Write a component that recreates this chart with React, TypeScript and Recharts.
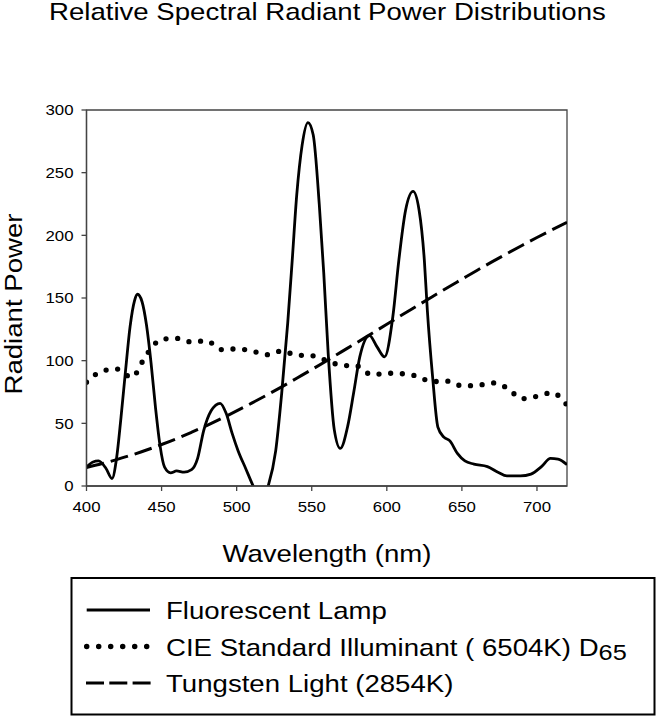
import React from 'react';
import { LineChart, Line, XAxis, YAxis, ReferenceArea, Legend } from 'recharts';

const fluorWavelengths = [
  400, 404, 408, 413, 417, 420, 423, 426, 429, 432, 434, 437, 440, 443, 446, 449, 452, 456, 460, 465,
  470, 474, 478, 483, 489, 493, 497, 501, 506, 511, 516, 521, 526, 530, 534, 537, 540, 543.6, 547.5, 551,
  555, 558, 561, 565, 569, 574, 578, 582, 588.5, 593.5, 598.5, 604, 608, 612.5, 617.5, 621.5, 625, 627,
  630.5, 634, 638, 642, 647, 652, 658, 667, 674, 680, 689, 696, 703, 709, 714, 720,
];
const fluorValues = [
  15, 19, 20, 14, 6, 22, 55, 92, 127, 148, 153, 147, 128, 98, 62, 32, 15, 10.5, 12, 11,
  13, 22, 44, 60, 66, 58, 42, 28, 14, 0, -12, 0, 28, 74, 130, 180, 232, 272, 290, 280,
  225, 170, 105, 45, 30, 48, 75, 103, 120, 111, 103, 135, 180, 220, 235, 220, 180, 140,
  87, 47, 39, 36, 26, 20, 17.5, 15.5, 11, 8, 8, 9.5, 15.5, 22, 21.5, 17,
];

const tenNmWavelengths = [
  400, 410, 420, 430, 440, 450, 460, 470, 480, 490, 500, 510, 520, 530, 540, 550, 560,
  570, 580, 590, 600, 610, 620, 630, 640, 650, 660, 670, 680, 690, 700, 710, 720,
];
const d65Values = [
  82.8, 91.5, 93.4, 86.7, 104.9, 117.0, 117.8, 114.9, 115.9, 108.8, 109.4, 107.8, 104.8, 107.7, 104.4, 104.0, 100.0,
  96.3, 95.8, 88.7, 90.0, 89.6, 87.7, 83.3, 83.7, 80.0, 80.2, 82.3, 78.3, 69.7, 71.6, 74.4, 64.5,
];
const tungstenValues = [
  14.7, 17.7, 21.0, 24.7, 28.7, 33.1, 37.8, 42.9, 48.2, 53.9, 59.9, 66.1, 72.5, 79.1, 86.0, 92.9, 100.0,
  107.2, 114.4, 121.7, 129.0, 136.4, 143.6, 150.8, 158.0, 165.0, 172.0, 178.8, 185.4, 191.9, 198.3, 204.4, 210.4,
];

const wavelengthTicks = [400, 450, 500, 550, 600, 650, 700];
const powerTicks = [0, 50, 100, 150, 200, 250, 300];
const seriesNames = ['Fluorescent Lamp', 'CIE Standard Illuminant ( 6504K) D', 'Tungsten Light (2854K)'];

const fluorData = fluorWavelengths.map((nm, i) => ({ nm, v: fluorValues[i] }));
const d65Data = tenNmWavelengths.map((nm, i) => ({ nm, v: d65Values[i] }));
const tungstenData = tenNmWavelengths.map((nm, i) => ({ nm, v: tungstenValues[i] }));

const FONT = '"Liberation Sans", Arial, sans-serif';
const STRETCH = 1.15;

const XTick = (props: any) => {
  const { x, y, payload } = props;
  return (
    <text transform={`translate(${x},${y}) scale(1.12,1)`} textAnchor="middle" dy="0.72em" fontSize={15} fontFamily={FONT} fill="#000">
      {payload.value}
    </text>
  );
};

const YTick = (props: any) => {
  const { x, y, payload } = props;
  return (
    <text transform={`translate(${x},${y}) scale(1.12,1)`} textAnchor="end" dy="0.36em" fontSize={15} fontFamily={FONT} fill="#000">
      {payload.value}
    </text>
  );
};

const renderLegend = (props: any) => {
  const rows = [34, 70.5, 107];
  const entries = (props.payload || []).slice().sort(
    (a: any, b: any) => seriesNames.indexOf(a.value) - seriesNames.indexOf(b.value)
  );
  return (
    <svg width={587} height={141} style={{ display: 'block' }}>
      <rect x={1.5} y={2} width={583} height={136.5} fill="#fff" stroke="#000" strokeWidth={2} />
      {entries.map((entry: any) => {
        const i = seriesNames.indexOf(entry.value);
        const y = rows[i];
        let sample;
        if (i === 0) sample = <line x1={16.7} x2={80} y1={y} y2={y} stroke="#000" strokeWidth={3} />;
        else if (i === 1)
          sample = <line x1={16.7} x2={77} y1={y} y2={y} stroke="#000" strokeWidth={5.5} strokeDasharray="0 12" strokeLinecap="round" />;
        else sample = <line x1={16} x2={81} y1={y} y2={y} stroke="#000" strokeWidth={3} strokeDasharray="18 5.3" />;
        return (
          <g key={entry.value}>
            {sample}
            <text transform={`translate(96,${y + 9}) scale(${STRETCH},1)`} fontSize={24} fontFamily={FONT} fill="#000">
              {entry.value}
              {i === 1 && <tspan fontSize={22} dy={4}>65</tspan>}
            </text>
          </g>
        );
      })}
    </svg>
  );
};

const App: React.FC = () => {
  return (
    <div style={{ position: 'absolute', left: 0, top: 0, width: 657, height: 717, background: '#fff' }}>
      <LineChart width={657} height={717} margin={{ top: 110, right: 90, bottom: 201, left: 0 }}>
        <XAxis
          type="number"
          dataKey="nm"
          domain={[400, 720]}
          ticks={wavelengthTicks}
          allowDataOverflow
          height={30}
          tickSize={5}
          tickMargin={10}
          tick={<XTick />}
          stroke="#444"
          strokeWidth={1.3}
        />
        <YAxis
          type="number"
          domain={[0, 300]}
          ticks={powerTicks}
          allowDataOverflow
          width={86.5}
          tickSize={5}
          tickMargin={8}
          tick={<YTick />}
          stroke="#444"
          strokeWidth={1.3}
        />
        <ReferenceArea x1={400} x2={720} y1={0} y2={300} fill="none" stroke="#444" strokeWidth={1.3} />
        <Line
          data={fluorData}
          dataKey="v"
          name={seriesNames[0]}
          type="monotone"
          stroke="#000"
          strokeWidth={2.8}
          dot={false}
          isAnimationActive={false}
        />
        <Line
          data={d65Data}
          dataKey="v"
          name={seriesNames[1]}
          type="monotone"
          stroke="#000"
          strokeWidth={5.3}
          strokeDasharray="0 11.7"
          strokeLinecap="round"
          dot={false}
          isAnimationActive={false}
        />
        <Line
          data={tungstenData}
          dataKey="v"
          name={seriesNames[2]}
          type="monotone"
          stroke="#000"
          strokeWidth={3}
          strokeDasharray="18 7"
          dot={false}
          isAnimationActive={false}
        />
        <Legend
          layout="horizontal"
          verticalAlign="middle"
          align="center"
          content={renderLegend}
          wrapperStyle={{ position: 'absolute', left: 70, top: 576, width: 587, height: 141 }}
        />
      </LineChart>
      <svg width={657} height={717} style={{ position: 'absolute', left: 0, top: 0, pointerEvents: 'none' }}>
        <text transform={`translate(49,20) scale(${STRETCH},1)`} fontSize={24} fontFamily={FONT} fill="#000">
          Relative Spectral Radiant Power Distributions
        </text>
        <text transform={`translate(22,304) rotate(-90) scale(${STRETCH},1)`} textAnchor="middle" fontSize={24} fontFamily={FONT} fill="#000">
          Radiant Power
        </text>
        <text transform={`translate(327,562) scale(${STRETCH},1)`} textAnchor="middle" fontSize={24} fontFamily={FONT} fill="#000">
          Wavelength (nm)
        </text>
      </svg>
    </div>
  );
};

export default App;
